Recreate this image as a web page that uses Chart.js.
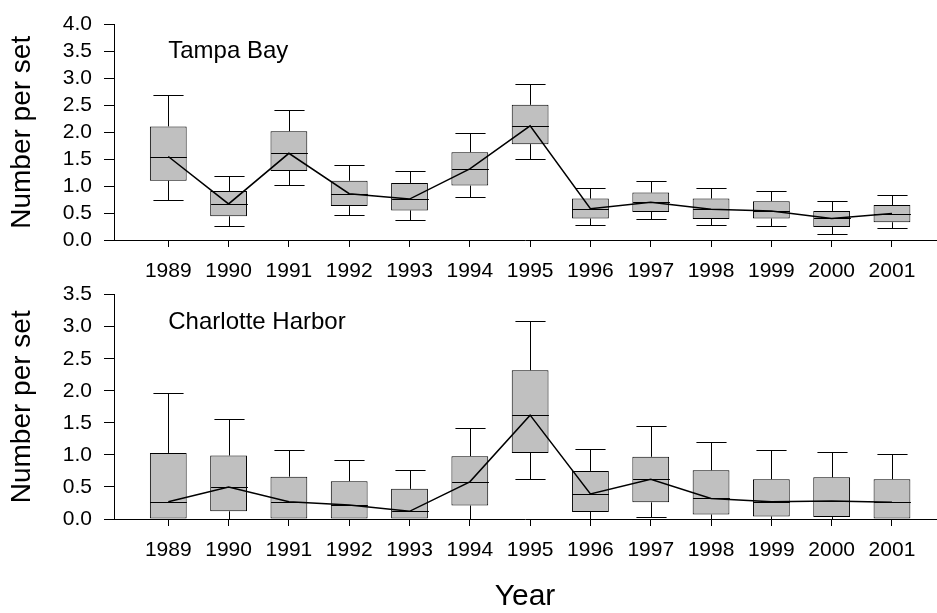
<!DOCTYPE html>
<html>
<head>
<meta charset="utf-8">
<script src="https://cdn.jsdelivr.net/npm/chart.js@4.4.0/dist/chart.umd.min.js"></script>
<style>
  html, body { margin: 0; padding: 0; background: #fff; overflow: hidden; }
  #wrap { position: relative; width: 937px; height: 613px; }
  #tampa { position: absolute; left: 0; top: 0; }
  #charlotte { position: absolute; left: 0; top: 270px; }
</style>
</head>
<body>
<div id="wrap">
  <canvas id="tampa" width="937" height="285"></canvas>
  <canvas id="charlotte" width="937" height="343"></canvas>
</div>
<script>
const years = [1989, 1990, 1991, 1992, 1993, 1994, 1995, 1996, 1997, 1998, 1999, 2000, 2001];

// Tampa Bay
const tbMin = [0.75, 0.26, 1.02, 0.46, 0.38, 0.80, 1.51, 0.28, 0.39, 0.27, 0.26, 0.12, 0.22];
const tbQ1  = [1.10, 0.44, 1.28, 0.63, 0.55, 1.01, 1.78, 0.40, 0.52, 0.39, 0.40, 0.24, 0.33];
const tbMed = [1.55, 0.67, 1.61, 0.86, 0.76, 1.32, 2.12, 0.58, 0.70, 0.57, 0.54, 0.40, 0.49];
const tbQ3  = [2.11, 0.91, 2.02, 1.10, 1.06, 1.63, 2.51, 0.77, 0.88, 0.77, 0.72, 0.54, 0.65];
const tbMax = [2.70, 1.19, 2.42, 1.40, 1.29, 1.99, 2.89, 0.97, 1.09, 0.96, 0.91, 0.72, 0.83];

// Charlotte Harbor
const chMin = [0.00, 0.00, 0.00, 0.00, 0.00, 0.00, 0.62, 0.00, 0.03, 0.00, 0.00, 0.00, 0.00];
const chQ1  = [0.00, 0.12, 0.00, 0.00, 0.00, 0.21, 1.03, 0.11, 0.26, 0.07, 0.04, 0.03, 0.00];
const chMed = [0.27, 0.50, 0.27, 0.22, 0.12, 0.58, 1.62, 0.39, 0.62, 0.32, 0.27, 0.28, 0.26];
const chQ3  = [1.03, 0.99, 0.66, 0.59, 0.47, 0.98, 2.32, 0.75, 0.97, 0.76, 0.62, 0.65, 0.62];
const chMax = [1.97, 1.56, 1.07, 0.92, 0.76, 1.42, 3.09, 1.09, 1.45, 1.20, 1.08, 1.04, 1.02];

const FONT = "'Liberation Sans', Arial, Helvetica, sans-serif";

// whiskers, caps and medians drawn on the chart's own scales
const boxPlot = {
  id: 'boxPlot',
  afterDatasetsDraw(chart, args, opts) {
    const xs = chart.scales.x, ys = chart.scales.y, ctx = chart.ctx;
    const step = xs.getPixelForValue(1990) - xs.getPixelForValue(1989);
    const capHalf = step * opts.capFrac / 2;
    const boxHalf = step * opts.boxFrac / 2;
    const crisp = v => Math.round(v) + 0.5;
    ctx.save();
    ctx.strokeStyle = '#000';
    ctx.lineWidth = 1;
    opts.years.forEach((yr, i) => {
      const cx = crisp(xs.getPixelForValue(yr));
      const yMin = crisp(ys.getPixelForValue(opts.min[i]));
      const yMax = crisp(ys.getPixelForValue(opts.max[i]));
      const yQ1 = ys.getPixelForValue(opts.q1[i]);
      const yQ3 = ys.getPixelForValue(opts.q3[i]);
      const yMed = crisp(ys.getPixelForValue(opts.med[i]));
      ctx.beginPath();
      // upper whisker
      ctx.moveTo(cx, yQ3); ctx.lineTo(cx, yMax);
      ctx.moveTo(cx - capHalf, yMax); ctx.lineTo(cx + capHalf, yMax);
      // lower whisker
      ctx.moveTo(cx, yQ1); ctx.lineTo(cx, yMin);
      ctx.moveTo(cx - capHalf, yMin); ctx.lineTo(cx + capHalf, yMin);
      // median
      ctx.moveTo(cx - boxHalf, yMed); ctx.lineTo(cx + boxHalf, yMed);
      ctx.stroke();
    });
    // panel label
    ctx.fillStyle = '#000';
    ctx.font = opts.labelFont;
    ctx.textAlign = 'left';
    ctx.textBaseline = 'middle';
    ctx.fillText(opts.label, xs.getPixelForValue(opts.labelAt[0]), ys.getPixelForValue(opts.labelAt[1]));
    ctx.restore();
  }
};

function makePanel(id, name, mins, q1s, meds, q3s, maxs, yMax, labelAt, axisH, padTop, showXTitle) {
  const ctx = document.getElementById(id).getContext('2d');
  return new Chart(ctx, {
    type: 'bar',
    plugins: [boxPlot],
    data: {
      datasets: [
        {
          type: 'line',
          label: 'Median',
          data: years.map((yr, i) => ({ x: yr, y: meds[i] })),
          borderColor: '#000',
          borderWidth: 1.5,
          pointRadius: 0,
          tension: 0,
          fill: false
        },
        {
          type: 'bar',
          label: 'Interquartile range',
          data: years.map((yr, i) => ({ x: yr, y: [q1s[i], q3s[i]] })),
          backgroundColor: '#c0c0c0',
          borderColor: '#000',
          borderWidth: 1,
          borderSkipped: false,
          barPercentage: 0.61,
          categoryPercentage: 1
        }
      ]
    },
    options: {
      responsive: false,
      animation: false,
      devicePixelRatio: 1,
      layout: { padding: { top: padTop, right: 1, left: 0, bottom: 0 } },
      plugins: {
        legend: { display: false },
        tooltip: { enabled: false },
        boxPlot: {
          years: years, min: mins, q1: q1s, med: meds, q3: q3s, max: maxs,
          capFrac: 0.5, boxFrac: 0.61,
          label: name, labelAt: labelAt, labelFont: '24px ' + FONT
        }
      },
      scales: {
        x: {
          type: 'linear',
          min: 1988.1,
          max: 2001.73,
          offset: false,
          grid: { offset: false, drawOnChartArea: false, tickLength: 7, color: '#000' },
          border: { display: true, color: '#000', width: 1 },
          ticks: {
            stepSize: 1,
            includeBounds: false,
            maxTicksLimit: 20,
            autoSkip: false,
            maxRotation: 0,
            padding: 12,
            color: '#000',
            font: { family: FONT, size: 21 },
            callback: v => String(v)
          },
          title: {
            display: showXTitle,
            text: 'Year',
            color: '#000',
            font: { family: FONT, size: 30, lineHeight: 1.1 },
            padding: { top: 0, bottom: 0 }
          },
          afterFit: s => { s.height = axisH; }
        },
        y: {
          min: 0,
          max: yMax,
          grid: { drawOnChartArea: false, tickLength: 10, color: '#000' },
          border: { display: true, color: '#000', width: 1 },
          ticks: {
            stepSize: 0.5,
            autoSkip: false,
            padding: 12,
            color: '#000',
            font: { family: FONT, size: 21 },
            callback: v => v.toFixed(1)
          },
          title: {
            display: true,
            text: 'Number per set',
            color: '#000',
            font: { family: FONT, size: 28, lineHeight: 1.2 },
            padding: { top: 5, bottom: 0 }
          },
          afterFit: s => { s.width = 114; }
        }
      }
    }
  });
}

makePanel('tampa', 'Tampa Bay', tbMin, tbQ1, tbMed, tbQ3, tbMax, 4.0, [1989, 3.5], 45, 15, false);
makePanel('charlotte', 'Charlotte Harbor', chMin, chQ1, chMed, chQ3, chMax, 3.5, [1989, 3.07], 94, 22, true);
</script>
</body>
</html>
